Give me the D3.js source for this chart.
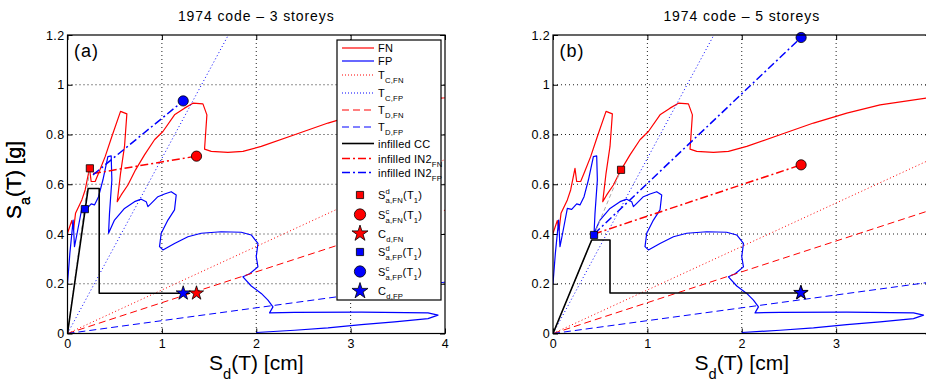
<!DOCTYPE html>
<html>
<head>
<meta charset="utf-8">
<script src="https://cdn.jsdelivr.net/npm/d3@7/dist/d3.min.js"></script>
<style>
body { margin: 0; background: #fff; }
text { font-family: "Liberation Sans", Arial, Helvetica, sans-serif; }
</style>
</head>
<body>
<svg id="chart" width="926" height="381"></svg>
<script>
// Spectra, Sd [cm] vs Sa [g] (same record in both panels)
var fnSpectrum = [[0,0.403],[0.046,0.454],[0.064,0.416],[0.085,0.483],[0.152,0.537],[0.187,0.577],
  [0.233,0.664],[0.251,0.611],[0.293,0.611],[0.329,0.644],[0.399,0.711],[0.470,0.792],[0.562,0.893],
  [0.629,0.883],[0.604,0.752],[0.562,0.644],[0.527,0.530],[0.569,0.557],[0.640,0.597],[0.721,0.658],
  [0.816,0.718],[0.922,0.779],[1.011,0.812],[1.134,0.879],[1.240,0.906],[1.329,0.926],[1.435,0.923],
  [1.477,0.879],[1.459,0.779],[1.452,0.741],[1.523,0.732],[1.700,0.728],[1.859,0.732],[2.053,0.752],
  [2.406,0.799],[2.760,0.846],[3.113,0.886],[3.466,0.919],[3.954,0.946],[4.2,0.955]];

var fpSpectrum = [[0,0.201],[0.025,0.322],[0.060,0.456],[0.074,0.349],[0.102,0.403],[0.152,0.503],
  [0.198,0.499],[0.251,0.521],[0.286,0.517],[0.329,0.550],[0.375,0.617],[0.428,0.711],[0.463,0.714],
  [0.470,0.617],[0.445,0.483],[0.435,0.403],[0.498,0.456],[0.604,0.503],[0.710,0.530],[0.781,0.540],
  [0.834,0.530],[0.852,0.510],[0.887,0.523],[0.958,0.550],[1.028,0.561],[1.099,0.570],[1.152,0.557],
  [1.134,0.497],[1.064,0.456],[0.993,0.403],[0.975,0.349],[1.011,0.336],[1.134,0.362],[1.276,0.389],
  [1.417,0.403],[1.629,0.409],[1.841,0.407],[1.947,0.396],[2.018,0.362],[2.000,0.309],[2.018,0.268],
  [1.930,0.240],[1.859,0.228],[1.947,0.191],[2.053,0.161],[2.124,0.134],[2.177,0.107],[2.141,0.083],
  [2.406,0.085],[3.113,0.086],[3.820,0.083],[3.926,0.074],[3.820,0.060],[3.466,0.047],[3.113,0.036],
  [2.760,0.023],[2.406,0.013],[2.000,0.004]];

// period lines through the origin
var tcFN = [[0,0],[4.3,0.752]];
var tcFP = [[0,0],[1.75,1.232]];
var tdFN = [[0,0],[4.3,0.533]];
var tdFP = [[0,0],[4.3,0.222]];

// panel (a): 3 storeys
var ccA = [[0,0],[0.219,0.583],[0.336,0.583],[0.336,0.162],[1.30,0.162]];
var elasticA = [[0,0],[0.237,0.664]];
var in2FnA = [[0.27,0.643],[1.367,0.713]];
var in2FpA = [[0.27,0.638],[1.226,0.935]];
var marksA = [["sq","r",0.237,0.664],["sq","b",0.184,0.5],["ci","r",1.367,0.713],
  ["ci","b",1.226,0.935],["st","r",1.367,0.162],["st","b",1.226,0.162]];

// panel (b): 5 storeys
var ccB = [[0,0],[0.41,0.376],[0.604,0.376],[0.604,0.163],[2.62,0.163]];
var elasticB = [[0,0],[0.721,0.658]];
var in2FnB = [[0.435,0.40],[2.629,0.678]];
var in2FpB = [[0.435,0.40],[2.629,1.19]];
var marksB = [["sq","r",0.721,0.658],["sq","b",0.435,0.396],["ci","r",2.629,0.678],
  ["ci","b",2.629,1.19],["st","r",2.629,0.163],["st","b",2.625,0.164]];

var xTicks = [0,1,2,3,4];
var yTicks = [0,0.2,0.4,0.6,0.8,1,1.2];
var titles = ["1974 code \u2013 3 storeys", "1974 code \u2013 5 storeys"];
var panelLabels = ["(a)", "(b)"];

var RED = "#ff0000", BLUE = "#0000ff";
var col = {r: RED, b: BLUE};

var svg = d3.select("#chart");
var svgW = 926;
var plotW = 377.5, plotH = 298.5, plotTop = 35;

// text with sub / superscripts: mode 1 = sub, 2 = sup, 3 = sub stacked under previous sup
function rich(t, parts, fs, shift) {
  var cur = 0, count = 0, supStart = 0, backs = [];
  shift = shift || 0.45;
  parts.forEach(function(p) {
    var mode = p[1] || 0;
    var off = (mode == 1 || mode == 3) ? fs * shift : (mode == 2 ? -fs * 0.45 : 0);
    var ts = t.append("tspan").text(p[0])
      .attr("dy", off - cur)
      .attr("font-size", mode ? fs * 0.7 : fs);
    cur = off;
    if (mode == 2) supStart = count;
    if (mode == 3) backs.push([ts, supStart]);
    count += p[0].length;
  });
  backs.forEach(function(b) {
    var pos = t.node().getStartPositionOfChar(b[1]);
    b[0].attr("x", pos.x);
  });
}

function drawPanel(i, left, cc, elastic, in2fn, in2fp, marks) {
  var x = d3.scaleLinear().domain([0, 4]).range([0, plotW]);
  var y = d3.scaleLinear().domain([0, 1.2]).range([plotH, 0]);
  var g = svg.append("g").attr("transform", `translate(${left}, ${plotTop})`);

  g.append("clipPath").attr("id", "clip" + i)
    .append("rect").attr("width", plotW).attr("height", plotH);

  // grid
  g.append("g").selectAll("line").data(xTicks.slice(1, 4)).enter().append("line")
    .attr("x1", d => x(d)).attr("x2", d => x(d)).attr("y1", 0).attr("y2", plotH)
    .attr("stroke", "#222").attr("stroke-dasharray", "1,3");
  g.append("g").selectAll("line").data(yTicks.slice(1, 6)).enter().append("line")
    .attr("y1", d => y(d)).attr("y2", d => y(d)).attr("x1", 0).attr("x2", plotW)
    .attr("stroke", "#222").attr("stroke-dasharray", "1,3");

  // axes, ticks inside (labels only where they fit in the page)
  var xLab = xTicks.filter(v => left + x(v) < svgW - 4);
  g.append("g").attr("transform", `translate(0, ${plotH})`)
    .call(d3.axisBottom(x).tickValues(xLab).tickSizeInner(-5).tickSizeOuter(0).tickPadding(6).tickFormat(d3.format("")))
    .call(a => a.select(".domain").remove());
  g.append("g")
    .call(d3.axisLeft(y).tickValues(yTicks).tickSizeInner(-5).tickSizeOuter(0).tickPadding(3).tickFormat(d3.format("")))
    .call(a => a.select(".domain").remove());
  g.append("g")
    .call(d3.axisTop(x).tickValues(xTicks).tickSizeInner(-5).tickSizeOuter(0).tickFormat(""))
    .call(a => a.select(".domain").remove());
  g.append("g").attr("transform", `translate(${plotW}, 0)`)
    .call(d3.axisRight(y).tickValues(yTicks).tickSizeInner(-5).tickSizeOuter(0).tickFormat(""))
    .call(a => a.select(".domain").remove());
  g.selectAll(".tick text").attr("font-size", 12.5).attr("fill", "#000")
    .attr("font-family", "Liberation Sans, Arial, sans-serif").attr("letter-spacing", 0.4);
  g.selectAll(".tick line").attr("stroke", "#000");

  var line = d3.line().x(d => x(d[0])).y(d => y(d[1]));
  var plot = g.append("g").attr("clip-path", `url(#clip${i})`);

  function path(data, color, width, dash) {
    plot.append("path").datum(data).attr("d", line)
      .attr("fill", "none").attr("stroke", color).attr("stroke-width", width)
      .attr("stroke-dasharray", dash || null).attr("stroke-linejoin", "round");
  }

  path(fnSpectrum, RED, 1.2);
  path(fpSpectrum, BLUE, 1.2);
  path(tcFN, RED, 1, "1,2.5");
  path(tcFP, BLUE, 1, "1,2.5");
  path(tdFN, RED, 1, "7,4");
  path(tdFP, BLUE, 1, "7,4");
  path(elastic, "#aaa", 1, "4,3");
  path(cc, "#000", 1.6);
  path(in2fn, RED, 1.5, "8,3,2,3");
  path(in2fp, BLUE, 1.5, "8,3,2,3");

  // markers
  g.selectAll(".mk").data(marks).enter().append("path")
    .attr("class", "mk")
    .attr("transform", d => `translate(${x(d[2])}, ${y(d[3])})`)
    .attr("d", d => d[0] == "sq" ? d3.symbol(d3.symbolSquare, 52)()
      : d[0] == "ci" ? d3.symbol(d3.symbolCircle, 82)() : d3.symbol(d3.symbolStar, 62)())
    .attr("fill", d => col[d[1]]).attr("stroke", "#000").attr("stroke-width", 0.8);

  // frame
  g.append("rect").attr("width", plotW).attr("height", plotH)
    .attr("fill", "none").attr("stroke", "#000").attr("stroke-width", 1.2);

  // title, panel label, axis labels
  g.append("text").attr("x", plotW / 2).attr("y", 20.7 - plotTop).attr("text-anchor", "middle")
    .attr("font-size", 14).attr("letter-spacing", 0.9).text(titles[i]);
  g.append("text").attr("x", 6.5).attr("y", 57 - plotTop)
    .attr("font-size", 18).attr("letter-spacing", 1).text(panelLabels[i]);

  var xl = g.append("text").attr("x", plotW / 2).attr("y", 369.5 - plotTop)
    .attr("text-anchor", "middle");
  rich(xl, [["S"], ["d", 1], ["(T) [cm]"]], 21);

  var yl = g.append("text").attr("transform", `translate(${-left + 21}, ${180 - plotTop}) rotate(-90)`)
    .attr("text-anchor", "middle");
  rich(yl, [["S"], ["a", 1], ["(T) [g]"]], 21);

  return g;
}

drawPanel(0, 67.5, ccA, elasticA, in2FnA, in2FpA, marksA);
drawPanel(1, 553, ccB, elasticB, in2FnB, in2FpB, marksB);

// legend (panel a)
var legendLines = [
  {parts: [["FN"]], y: 48, c: RED, w: 1.2, dash: null},
  {parts: [["FP"]], y: 61, c: BLUE, w: 1.2, dash: null},
  {parts: [["T"], ["C,FN", 1]], y: 75, c: RED, w: 1, dash: "1,2"},
  {parts: [["T"], ["C,FP", 1]], y: 93, c: BLUE, w: 1, dash: "1,2"},
  {parts: [["T"], ["D,FN", 1]], y: 110, c: RED, w: 1, dash: "7,4"},
  {parts: [["T"], ["D,FP", 1]], y: 127, c: BLUE, w: 1, dash: "7,4"},
  {parts: [["infilled CC"]], y: 143.5, c: "#000", w: 1.6, dash: null},
  {parts: [["infilled IN2"], ["FN", 1]], y: 158.5, c: RED, w: 1.5, dash: "8,3,2,3"},
  {parts: [["infilled IN2"], ["FP", 1]], y: 172.5, c: BLUE, w: 1.5, dash: "8,3,2,3"}
];
var legendMarks = [
  {parts: [["S"], ["d", 2], ["a,FN", 3], ["(T"], ["1", 1], [")"]], y: 195, s: "sq", c: RED},
  {parts: [["S"], ["c", 2], ["a,FN", 3], ["(T"], ["1", 1], [")"]], y: 214.5, s: "ci", c: RED},
  {parts: [["C"], ["d,FN", 1]], y: 233.5, s: "st", c: RED},
  {parts: [["S"], ["d", 2], ["a,FP", 3], ["(T"], ["1", 1], [")"]], y: 252, s: "sq", c: BLUE},
  {parts: [["S"], ["c", 2], ["a,FP", 3], ["(T"], ["1", 1], [")"]], y: 271.5, s: "ci", c: BLUE},
  {parts: [["C"], ["d,FP", 1]], y: 291, s: "st", c: BLUE}
];

var lg = svg.append("g");
lg.append("rect").attr("x", 337).attr("y", 40).attr("width", 104).attr("height", 260)
  .attr("fill", "#fff").attr("stroke", "#000").attr("stroke-width", 1.2);

legendLines.forEach(function(d) {
  lg.append("line").attr("x1", 342).attr("x2", 374).attr("y1", d.y).attr("y2", d.y)
    .attr("stroke", d.c).attr("stroke-width", d.w).attr("stroke-dasharray", d.dash);
  var t = lg.append("text").attr("x", 378).attr("y", d.y + 4).attr("letter-spacing", 0.2);
  rich(t, d.parts, 11, 0.38);
});
legendMarks.forEach(function(d) {
  var sz = d.s == "sq" ? 52 : d.s == "ci" ? 100 : 80;
  var sym = d.s == "sq" ? d3.symbolSquare : d.s == "ci" ? d3.symbolCircle : d3.symbolStar;
  lg.append("path").attr("transform", `translate(360, ${d.y})`)
    .attr("d", d3.symbol(sym, sz)())
    .attr("fill", d.c).attr("stroke", "#000").attr("stroke-width", 0.8);
  var t = lg.append("text").attr("x", 378).attr("y", d.y + 4).attr("letter-spacing", 0.2);
  rich(t, d.parts, 11, 0.4);
});
</script>
</body>
</html>
